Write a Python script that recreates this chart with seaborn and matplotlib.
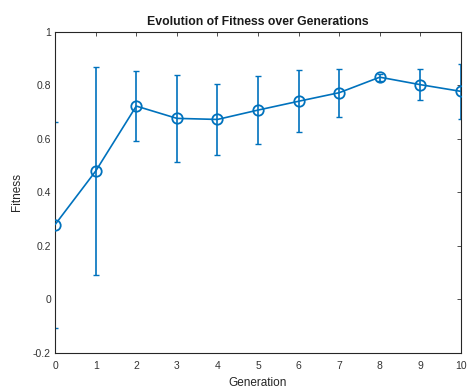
import matplotlib
matplotlib.use("Agg")
import matplotlib.pyplot as plt
import seaborn as sns
import pandas as pd
import numpy as np

generations = [0, 1, 2, 3, 4, 5, 6, 7, 8, 9, 10]
fitness_mean = [0.28, 0.48, 0.723, 0.677, 0.673, 0.708, 0.741, 0.773, 0.831, 0.803, 0.778]
fitness_std = [0.385, 0.39, 0.13, 0.163, 0.132, 0.128, 0.115, 0.09, 0.013, 0.058, 0.102]
y_ticks = [-0.2, 0, 0.2, 0.4, 0.6, 0.8, 1]
y_tick_labels = ["-0.2", "0", "0.2", "0.4", "0.6", "0.8", "1"]

sns.set_style("white")
plt.rcParams['font.family'] = ['Liberation Sans', 'DejaVu Sans']

df = pd.DataFrame({"Generation": generations, "Fitness": fitness_mean})
color = "#0072BD"

fig = plt.figure(figsize=(4.67, 3.9), dpi=100)
ax = fig.add_axes([0.118, 0.095, 0.869, 0.823])

ax.errorbar(df["Generation"], df["Fitness"], yerr=fitness_std, fmt="none",
            ecolor=color, elinewidth=1.2, capsize=2.5, capthick=1.0, zorder=2)
sns.lineplot(data=df, x="Generation", y="Fitness", ax=ax, color=color,
             marker="o", markersize=7.5, markerfacecolor="none",
             markeredgecolor=color, markeredgewidth=1.3, linewidth=1.2, zorder=3)

ax.set_xlim(0, 10)
ax.set_ylim(-0.2, 1)
ax.set_xticks(generations)
ax.set_yticks(y_ticks)
ax.set_yticklabels(y_tick_labels)
ax.tick_params(direction="in", length=3, width=0.6, labelsize=7.5, colors="#333333",
               top=True, right=True, pad=3)
ax.tick_params(axis="x", pad=6)
for s in ax.spines.values():
    s.set_visible(True)
    s.set_linewidth(0.8)
    s.set_color("#262626")

ax.set_xlabel("Generation", fontsize=8.5, labelpad=4, color="#262626")
ax.set_ylabel("Fitness", fontsize=8.5, labelpad=7, color="#262626")
ax.set_title("Evolution of Fitness over Generations", fontsize=8.8,
             fontweight="bold", pad=5, color="#1a1a1a")

fig.savefig("out.png", dpi=100)
